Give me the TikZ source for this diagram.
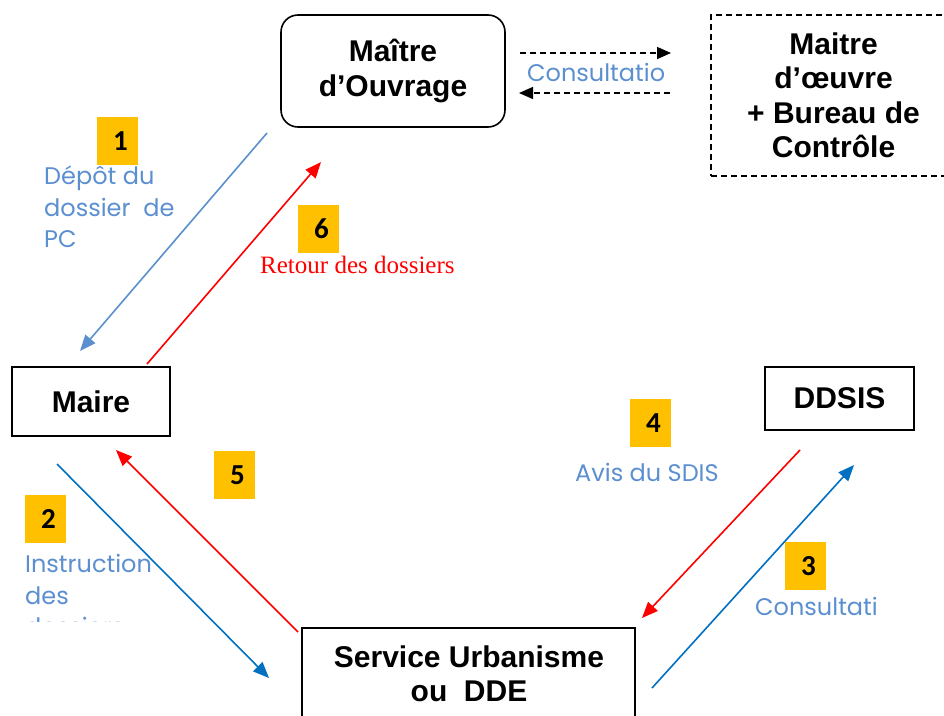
\documentclass[tikz,border=0pt]{standalone}
\usepackage{fontspec}
\setmainfont{Liberation Sans}
\newfontfamily\labelfont{Poppins}
\newfontfamily\numfont{Carlito}
\newfontfamily\seriffont{Liberation Serif}
\usetikzlibrary{arrows.meta}
\definecolor{softblue}{HTML}{5B8FD0}
\definecolor{deepblue}{HTML}{0070C0}
\definecolor{gold}{HTML}{FFC000}

\begin{document}
\begin{tikzpicture}[x=1pt,y=-1pt,
  actor/.style={draw, line width=1.6pt, font=\bfseries\fontsize{30}{34.5}\selectfont,
    align=center, inner sep=0},
  caption/.style={font=\bfseries\fontsize{30}{34.5}\selectfont, align=center, inner sep=0},
  badge/.style={fill=gold, minimum width=41pt, minimum height=48pt, inner sep=0,
    text width=41pt, align=center, font=\numfont\bfseries\fontsize{29}{29}\selectfont},
  note/.style={text=softblue, font=\labelfont\fontsize{24}{31.5}\selectfont,
    align=left, inner sep=0, anchor=west},
  flow/.style={line width=1.6pt, -{Triangle[length=16pt,width=13pt]}},
  dashflow/.style={line width=1.4pt, dash pattern=on 6pt off 4pt,
    -{Triangle[length=14pt,width=12pt]}},
]
\useasboundingbox (0,0) rectangle (944,715);

% actors
\node[actor, rounded corners=17pt, minimum width=224pt, minimum height=112pt]
  (mo) at (393,71) {Maître\\d’Ouvrage};
\begin{scope}
  \clip (0,0) rectangle (944,715);
  \node[actor, dashed, line width=1.3pt, dash pattern=on 6pt off 4pt,
    minimum width=245pt, minimum height=161pt]
    (moe) at (833.5,95.5) {Maitre\\d’œuvre\\+ Bureau de\\Contrôle};
  \node[draw, line width=1.6pt, minimum width=333pt, minimum height=110pt, inner sep=0]
    (su) at (468.5,683) {};
\end{scope}
\node[caption] (sut) at (469,674) {Service Urbanisme\\ou\ \ DDE};
\node[actor, minimum width=158pt, minimum height=69pt] (maire) at (91,401.5) {Maire};
\node[actor, minimum width=149pt, minimum height=63pt] (ddsis) at (839.5,398.5) {DDSIS};

% arrow end points
\coordinate (c1s) at (267,133);  \coordinate (c1e) at (80,351);
\coordinate (c6s) at (147,364);  \coordinate (c6e) at (321,162);
\coordinate (c2s) at (57,464);   \coordinate (c2e) at (269,678);
\coordinate (c5s) at (298,632);  \coordinate (c5e) at (116,450);
\coordinate (c4s) at (800,450);  \coordinate (c4e) at (642,618);
\coordinate (c3s) at (652,688);  \coordinate (c3e) at (854,465);
\coordinate (d1s) at (520,53);   \coordinate (d1e) at (671,53);
\coordinate (d2s) at (670,93);   \coordinate (d2e) at (519,93);

% flows
\draw[flow, softblue] (c1s) -- (c1e);
\draw[flow, red] (c6s) -- (c6e);
\draw[flow, deepblue] (c2s) -- (c2e);
\draw[flow, red] (c5s) -- (c5e);
\draw[flow, red] (c4s) -- (c4e);
\draw[flow, deepblue] (c3s) -- (c3e);
\draw[dashflow] (d1s) -- (d1e);
\draw[dashflow] (d2s) -- (d2e);

% step numbers (digit set a little right of centre)
\node[badge] (n1) at (117.5,141) {\hspace*{6pt}1};
\node[badge] (n6) at (318.5,228.5) {\hspace*{6pt}6};
\node[badge] (n2) at (45.5,519) {\hspace*{6pt}2};
\node[badge] (n5) at (234.5,475) {\hspace*{6pt}5};
\node[badge] (n4) at (650.5,423) {\hspace*{6pt}4};
\node[badge] (n3) at (805.5,566) {\hspace*{6pt}3};

% labels
\node[note] (l1) at (44,207) {Dépôt du\\dossier\ \ de\\PC};
\node[note] (lc) at (527,72) {Consultatio};
\node[note] (l4) at (575,472) {Avis du SDIS};
\node[note] (l3) at (755,606) {Consultati};
\node[anchor=west, inner sep=0, text=red, font=\seriffont\fontsize{25}{25}\selectfont]
  (l6) at (260,265) {Retour des dossiers};
\begin{scope}
  \clip (0,540) rectangle (300,621);
  \node[note] (l2) at (25,595) {Instruction\\des\\dossiers};
\end{scope}
\end{tikzpicture}
\end{document}
